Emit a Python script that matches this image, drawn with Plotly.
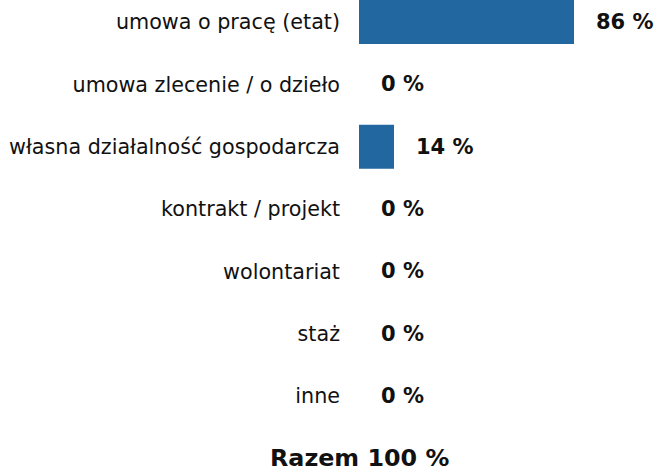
import plotly.graph_objects as go

categories = ["umowa o pracę (etat)", "umowa zlecenie / o dzieło", "własna działalność gospodarcza",
              "kontrakt / projekt", "wolontariat", "staż", "inne"]
values = [86, 0, 14, 0, 0, 0, 0]
value_labels = [f"{v} %" for v in values]
total_label = "Razem 100 %"

FONT = "DejaVu Sans"
BAR = "#2267a0"
TXT = "#111111"

fig = go.Figure(go.Bar(
    x=values, y=categories, orientation="h",
    marker=dict(color=BAR, line=dict(width=0)),
    hoverinfo="skip",
))

for c, v, t in zip(categories, values, value_labels):
    fig.add_annotation(x=v, y=c, text=f"<b>{t}</b>", showarrow=False,
                       xanchor="left", yanchor="middle", xshift=20,
                       font=dict(family=FONT, size=21, color=TXT))

fig.add_annotation(x=0, y=-0.0905, xref="paper", yref="paper", text=f"<b>{total_label}</b>",
                   showarrow=False, xanchor="center", yanchor="middle",
                   font=dict(family=FONT, size=23.8, color=TXT))

fig.update_layout(
    width=657, height=473,
    margin=dict(l=359, r=48, t=0, b=53),
    paper_bgcolor="white", plot_bgcolor="white",
    bargap=0.294,
    showlegend=False,
    font=dict(family=FONT, size=20.7, color=TXT),
    xaxis=dict(range=[0, 100], visible=False, fixedrange=True),
    yaxis=dict(type="category", categoryorder="array", categoryarray=categories,
               range=[6.385, -0.353], showgrid=False, zeroline=False, showline=False,
               ticks="", ticklabelstandoff=18, tickfont=dict(family=FONT, size=20.7, color=TXT)),
)

fig.write_html("out.html", config={"displayModeBar": False, "staticPlot": True},
               post_script="document.body.style.margin='0px';")
